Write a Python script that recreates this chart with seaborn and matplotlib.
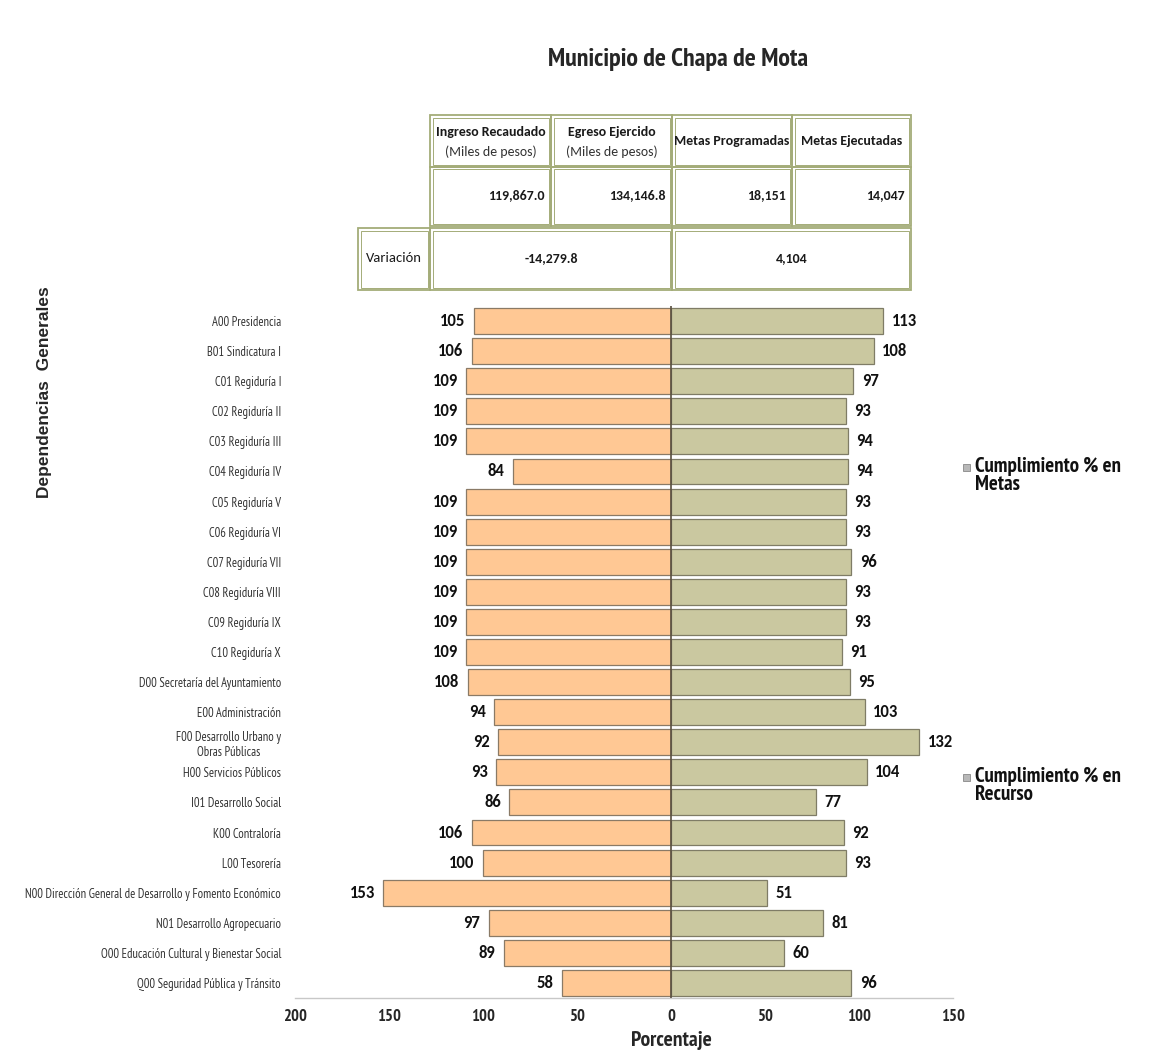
import matplotlib
matplotlib.use("Agg")
import matplotlib.pyplot as plt
from matplotlib.patches import Rectangle
from matplotlib import font_manager as fm
import matplotlib.transforms as mtransforms
import seaborn as sns
import pandas as pd

# ---------------- data ----------------
dependencias = [
    "A00 Presidencia", "B01 Sindicatura I", "C01 Regiduría I", "C02 Regiduría II",
    "C03 Regiduría III", "C04 Regiduría IV", "C05 Regiduría V", "C06 Regiduría VI",
    "C07 Regiduría VII", "C08 Regiduría VIII", "C09 Regiduría IX", "C10 Regiduría X",
    "D00 Secretaría del Ayuntamiento", "E00 Administración",
    "F00 Desarrollo Urbano y\nObras Públicas", "H00 Servicios Públicos",
    "I01 Desarrollo Social", "K00 Contraloría", "L00 Tesorería",
    "N00 Dirección General de Desarrollo y Fomento Económico",
    "N01 Desarrollo Agropecuario", "O00 Educación Cultural y Bienestar Social",
    "Q00 Seguridad Pública y Tránsito",
]
recurso = [105, 106, 109, 109, 109, 84, 109, 109, 109, 109, 109, 109, 108,
           94, 92, 93, 86, 106, 100, 153, 97, 89, 58]
metas = [113, 108, 97, 93, 94, 94, 93, 93, 96, 93, 93, 91, 95,
         103, 132, 104, 77, 92, 93, 51, 81, 60, 96]
xticks = [-200, -150, -100, -50, 0, 50, 100, 150]
xtick_labels = ["200", "150", "100", "50", "0", "50", "100", "150"]

titulo = "Municipio de Chapa de Mota"
tabla_encabezados = [("Ingreso Recaudado", "(Miles de pesos)"),
                     ("Egreso Ejercido", "(Miles de pesos)"),
                     ("Metas Programadas", ""),
                     ("Metas Ejecutadas", "")]
tabla_valores = ["119,867.0", "134,146.8", "18,151", "14,047"]
variacion_valores = ["-14,279.8", "4,104"]
leyenda = ["Cumplimiento % en\nMetas", "Cumplimiento % en\nRecurso"]

# ---------------- fonts ----------------
_fonts = {}
for f in fm.fontManager.ttflist:
    w = f.weight if isinstance(f.weight, int) else {"bold": 700, "normal": 400}.get(f.weight, 400)
    _fonts.setdefault(f.name, set()).add(w)

def pick(cands, need_bold=True):
    for c in cands:
        if c in _fonts and (not need_bold or max(_fonts[c]) >= 600):
            return [c, "DejaVu Sans"]
    return ["DejaVu Sans"]

NARROW = pick(["Liberation Sans Narrow", "Arial Narrow", "PT Sans Narrow",
               "Archivo Narrow", "Asap Condensed", "Roboto Condensed",
               "Fira Sans Condensed", "DejaVu Sans Condensed"])
NARROW_REG = pick(["Liberation Sans Narrow", "Arial Narrow", "PT Sans Narrow",
                   "Archivo Narrow", "Roboto Condensed", "Asap Condensed",
                   "DejaVu Sans Condensed"], need_bold=False)
CAL = pick(["Carlito", "Calibri", "Lato", "Open Sans"])
ARIAL = pick(["Liberation Sans", "Arial", "DejaVu Sans"])

sns.set_theme(style="white")
plt.rcParams["font.family"] = NARROW

W, H = 1172, 1053
fig = plt.figure(figsize=(W / 100, H / 100), dpi=100)
fig.patch.set_facecolor("white")

def fx(px):
    return px / W

def fy(py):
    return 1 - py / H

ax = fig.add_axes([fx(295), fy(998), fx(953) - fx(295), fy(306) - fy(998)])

df_r = pd.DataFrame({"dep": dependencias, "val": [-v for v in recurso]})
df_m = pd.DataFrame({"dep": dependencias, "val": metas})

sns.barplot(data=df_r, x="val", y="dep", orient="h", color="#FFC894",
            saturation=1, width=0.86, edgecolor="#8A7A66", linewidth=0.9, ax=ax)
sns.barplot(data=df_m, x="val", y="dep", orient="h", color="#CAC8A0",
            saturation=1, width=0.86, edgecolor="#7F7C66", linewidth=0.9, ax=ax)

ax.bar_label(ax.containers[0], labels=[str(v) for v in recurso], padding=6,
             fontsize=12, fontweight="bold", family=CAL, color="#111111")
ax.bar_label(ax.containers[1], labels=[str(v) for v in metas], padding=6,
             fontsize=12, fontweight="bold", family=CAL, color="#111111")

ax.axvline(0, color="#5A5040", lw=1.2, zorder=5)
ax.set_xlim(-200, 150)
ax.set_ylim(len(dependencias) - 0.5, -0.5)
ax.set_xticks(xticks)
ax.set_xticklabels(xtick_labels, fontsize=12, fontweight="bold", family=NARROW)
ax.tick_params(axis="x", length=0, pad=8)
ax.tick_params(axis="y", length=0, pad=10)
for lab in ax.get_yticklabels():
    lab.set_fontsize(9)
    lab.set_color("#333333")
    lab.set_family(NARROW_REG)
    lab.set_multialignment("center")
ax.set_xlabel("")
ax.set_ylabel("")
for s in ["left", "right", "top"]:
    ax.spines[s].set_visible(False)
ax.spines["bottom"].set_color("#C8C8C8")
ax.spines["bottom"].set_linewidth(1.0)

ax.text(0, fy(1041), "Porcentaje",
        transform=mtransforms.blended_transform_factory(ax.transData, fig.transFigure),
        ha="center", va="center", fontsize=15.5, fontweight="bold", family=NARROW)

# title
fig.text(fx(678), fy(60), titulo, ha="center", va="center", fontsize=18.7,
         fontweight="bold", family=NARROW)

# y axis title
fig.text(fx(45), fy(392), "Dependencias  Generales", rotation=90, ha="center",
         va="center", fontsize=12.5, fontweight="bold", family=ARIAL)

# ---------------- table ----------------
BORDER = "#A4AC78"

def cell(x0, y0, x1, y1):
    fig.add_artist(Rectangle((fx(x0), fy(y1)), fx(x1) - fx(x0), fy(y0) - fy(y1),
                             transform=fig.transFigure, fill=False,
                             edgecolor=BORDER, lw=1.3))
    fig.add_artist(Rectangle((fx(x0 + 2.5), fy(y1 - 2.5)), fx(x1 - x0 - 5),
                             fy(y0 + 2.5) - fy(y1 - 2.5),
                             transform=fig.transFigure, fill=False,
                             edgecolor=BORDER, lw=0.7))

cols = [430, 551, 672, 792, 911]
for i in range(4):
    x0, x1 = cols[i], cols[i + 1]
    cell(x0, 115, x1, 167)
    cell(x0, 167, x1, 226)
    top, sub = tabla_encabezados[i]
    xc = fx((x0 + x1) / 2)
    if sub:
        fig.text(xc, fy(132), top, ha="center", va="center", fontsize=10,
                 fontweight="bold", family=CAL, color="#1A1A1A")
        fig.text(xc, fy(152), sub, ha="center", va="center", fontsize=10,
                 family=CAL, color="#333333")
    else:
        fig.text(xc, fy(141), top, ha="center", va="center", fontsize=10,
                 fontweight="bold", family=CAL, color="#1A1A1A")
    fig.text(fx(x1 - 6), fy(195), tabla_valores[i], ha="right", va="center",
             fontsize=10, fontweight="bold", family=CAL, color="#1A1A1A")

cell(358, 228, 430, 290)
cell(430, 228, 672, 290)
cell(672, 228, 911, 290)
fig.text(fx(394), fy(258), "Variación", ha="center", va="center", fontsize=10.5,
         family=CAL, color="#1A1A1A")
fig.text(fx(551), fy(258), variacion_valores[0], ha="center", va="center",
         fontsize=10, fontweight="bold", family=CAL, color="#1A1A1A")
fig.text(fx(792), fy(258), variacion_valores[1], ha="center", va="center",
         fontsize=10, fontweight="bold", family=CAL, color="#1A1A1A")

# ---------------- legend ----------------
for (ly, txt) in zip([467, 777], leyenda):
    fig.add_artist(Rectangle((fx(963), fy(ly + 4)), fx(7), fx(7) * W / H,
                             transform=fig.transFigure, facecolor="#B8B8B8",
                             edgecolor="#888888", lw=0.6))
    fig.text(fx(975), fy(ly - 10), txt, ha="left", va="top", fontsize=15,
             fontweight="bold", family=NARROW, color="#111111", linespacing=0.95)

fig.savefig("out.png", dpi=100, facecolor="white")
